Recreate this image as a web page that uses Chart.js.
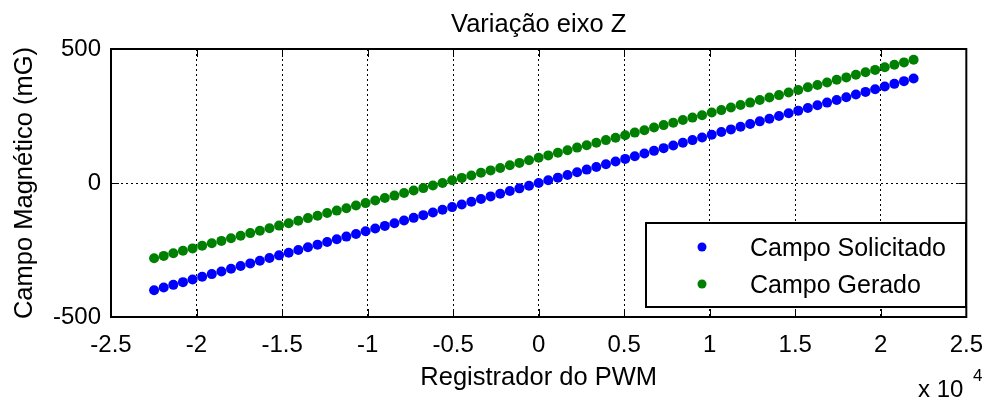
<!DOCTYPE html>
<html lang="pt">

<head>
    <meta charset="UTF-8" />
    <title>Variação eixo Z</title>
    <script src="https://cdn.jsdelivr.net/npm/chart.js"></script>
    <style>
        body { margin: 0; background: #fff; }
    </style>
</head>

<body>
    <canvas id="grafico_z" width="997" height="401"></canvas>
</body>

<script>
    // valores
    var pwm = [-22480, -21918, -21356, -20794, -20232, -19670, -19108, -18546, -17984, -17422,
        -16860, -16298, -15736, -15174, -14612, -14050, -13488, -12926, -12364, -11802,
        -11240, -10678, -10116, -9554, -8992, -8430, -7868, -7306, -6744, -6182,
        -5620, -5058, -4496, -3934, -3372, -2810, -2248, -1686, -1124, -562,
        0, 562, 1124, 1686, 2248, 2810, 3372, 3934, 4496, 5058,
        5620, 6182, 6744, 7306, 7868, 8430, 8992, 9554, 10116, 10678,
        11240, 11802, 12364, 12926, 13488, 14050, 14612, 15174, 15736, 16298,
        16860, 17422, 17984, 18546, 19108, 19670, 20232, 20794, 21356, 21918];

    var campo_solicitado = [-400, -390, -380, -370, -360, -350, -340, -330, -320, -310,
        -300, -290, -280, -270, -260, -250, -240, -230, -220, -210,
        -200, -190, -180, -170, -160, -150, -140, -130, -120, -110,
        -100, -90, -80, -70, -60, -50, -40, -30, -20, -10,
        0, 10, 20, 30, 40, 50, 60, 70, 80, 90,
        100, 110, 120, 130, 140, 150, 160, 170, 180, 190,
        200, 210, 220, 230, 240, 250, 260, 270, 280, 290,
        300, 310, 320, 330, 340, 350, 360, 370, 380, 390];

    var campo_gerado = [-281, -272, -262, -253, -244, -234, -225, -216, -206, -197,
        -187, -178, -169, -159, -150, -141, -131, -122, -112, -103,
        -94, -84, -75, -65, -56, -47, -37, -28, -19, -9,
        0, 10, 19, 28, 38, 47, 56, 66, 75, 85,
        94, 103, 113, 122, 132, 141, 150, 160, 169, 178,
        188, 197, 207, 216, 225, 235, 244, 253, 263, 272,
        282, 291, 300, 310, 319, 328, 338, 347, 357, 366,
        375, 385, 394, 404, 413, 422, 432, 441, 450, 460];

    var ticks_x = [-2.5, -2, -1.5, -1, -0.5, 0, 0.5, 1, 1.5, 2, 2.5]; // x 10^4
    var ticks_y = [-500, 0, 500];

    var nomes = ['Campo Solicitado', 'Campo Gerado'];
    var cores = ['#0000ff', '#008000'];

    var fonte = 'Liberation Sans, Arial, sans-serif';

    // textos, bordas, marcas e legenda no estilo do matlab
    var extras = {
        id: 'extras',
        afterDraw: function (chart) {
            var ctx = chart.ctx;
            var a = chart.chartArea;
            var sx = chart.scales.x;
            var sy = chart.scales.y;
            ctx.save();
            ctx.strokeStyle = '#000';
            ctx.lineWidth = 1;
            ctx.setLineDash([]);

            // marcas para dentro
            ctx.beginPath();
            ticks_x.forEach(function (t) {
                var p = Math.round(sx.getPixelForValue(t * 10000)) + 0.5;
                ctx.moveTo(p, a.bottom); ctx.lineTo(p, a.bottom - 8);
                ctx.moveTo(p, a.top); ctx.lineTo(p, a.top + 8);
            });
            ticks_y.forEach(function (t) {
                var p = Math.round(sy.getPixelForValue(t)) + 0.5;
                ctx.moveTo(a.left, p); ctx.lineTo(a.left + 8, p);
                ctx.moveTo(a.right, p); ctx.lineTo(a.right - 8, p);
            });
            ctx.stroke();

            // caixa
            ctx.lineWidth = 2;
            ctx.strokeRect(a.left, a.top, a.right - a.left, a.bottom - a.top);

            // legenda
            ctx.fillStyle = '#fff';
            ctx.fillRect(646, 223, 320, 84);
            ctx.lineWidth = 2;
            ctx.strokeRect(646, 223, 320, 84);
            ctx.font = '25px ' + fonte;
            ctx.textBaseline = 'alphabetic';
            ctx.textAlign = 'left';
            for (var i = 0; i < nomes.length; i++) {
                var ly = 247 + i * 37;
                ctx.fillStyle = cores[i];
                ctx.beginPath();
                ctx.arc(702, ly, 4.5, 0, Math.PI * 2);
                ctx.fill();
                ctx.fillStyle = '#000';
                ctx.fillText(nomes[i], 750, ly + 9);
            }

            // titulos
            ctx.fillStyle = '#000';
            ctx.textAlign = 'center';
            ctx.font = '25.5px ' + fonte;
            ctx.fillText('Variação eixo Z', (a.left + a.right) / 2, 32);
            ctx.fillText('Registrador do PWM', (a.left + a.right) / 2, 385);
            ctx.save();
            ctx.translate(32, (a.top + a.bottom) / 2);
            ctx.rotate(-Math.PI / 2);
            ctx.fillText('Campo Magnético (mG)', 0, 0);
            ctx.restore();
            ctx.textAlign = 'left';
            ctx.font = '24px ' + fonte;
            ctx.fillText('x 10', 918, 397);
            ctx.font = '17px ' + fonte;
            ctx.fillText('4', 973, 381);
            ctx.restore();
        }
    };

    var series = [campo_solicitado, campo_gerado];

    new Chart(document.getElementById('grafico_z'), {
        type: 'scatter',
        data: {
            datasets: series.map(function (s, i) {
                return {
                    label: nomes[i],
                    data: pwm.map(function (x, j) { return { x: x, y: s[j] }; }),
                    backgroundColor: cores[i],
                    borderColor: cores[i],
                    pointRadius: 5,
                    borderWidth: 0
                };
            })
        },
        options: {
            responsive: false,
            animation: false,
            layout: { padding: { top: 49, right: 22, left: 0, bottom: 0 } },
            plugins: {
                legend: { display: false },
                tooltip: { enabled: false }
            },
            scales: {
                x: {
                    type: 'linear',
                    min: -25000,
                    max: 25000,
                    afterBuildTicks: function (scale) {
                        scale.ticks = ticks_x.map(function (t) { return { value: t * 10000 }; });
                    },
                    afterFit: function (scale) { scale.height = 84; },
                    grid: { color: '#000', lineWidth: 1, drawTicks: false },
                    border: { display: false, dash: [2, 3] },
                    ticks: {
                        color: '#000',
                        font: { family: fonte, size: 24 },
                        padding: 14,
                        maxRotation: 0,
                        autoSkip: false,
                        callback: function (v) { return String(v / 10000); }
                    }
                },
                y: {
                    min: -500,
                    max: 500,
                    afterBuildTicks: function (scale) {
                        scale.ticks = ticks_y.map(function (t) { return { value: t }; });
                    },
                    afterFit: function (scale) { scale.width = 111; },
                    grid: { color: '#000', lineWidth: 1, drawTicks: false },
                    border: { display: false, dash: [2, 3] },
                    ticks: {
                        color: '#000',
                        font: { family: fonte, size: 24 },
                        padding: 10
                    }
                }
            }
        },
        plugins: [extras]
    });
</script>

</html>
